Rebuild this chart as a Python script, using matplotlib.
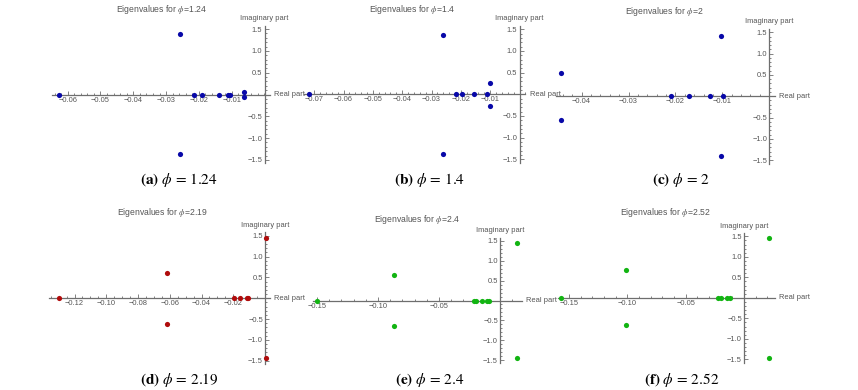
import matplotlib
matplotlib.use("Agg")
from matplotlib import pyplot as plt
from matplotlib.ticker import AutoMinorLocator

W, H = 858, 390
plt.rcParams['mathtext.fontset'] = 'stix'
plt.rcParams['font.family'] = ['Liberation Sans', 'DejaVu Sans']

# eigenvalues (real, imaginary)
re_a = [-0.0628, -0.0259, -0.0259, -0.0216, -0.0190, -0.0138, -0.0111, -0.0104, -0.0064, -0.0064]
im_a = [0, 1.385, -1.37, 0, 0, 0, 0, 0, 0.05, -0.05]
re_b = [-0.0717, -0.0262, -0.0262, -0.0217, -0.0196, -0.0154, -0.0112, -0.0102, -0.0102]
im_b = [0, 1.38, -1.38, 0, 0, 0, 0, 0.265, -0.265]
re_c = [-0.0443, -0.0443, -0.0209, -0.0171, -0.0126, -0.0098, -0.0102, -0.0102]
im_c = [0.55, -0.55, 0, 0, 0, 0, 1.41, -1.41]
re_d = [-0.130, -0.062, -0.062, -0.0196, -0.0156, -0.0116, -0.0108, 0.0008, 0.0008]
im_d = [0, 0.61, -0.61, 0, 0, 0, 0, 1.445, -1.445]
re_e = [-0.150, -0.087, -0.087, -0.0216, -0.0194, -0.0148, -0.0104, -0.0093, 0.0139, 0.0139]
im_e = [0, 0.65, -0.65, 0, 0, 0, 0, 0, 1.45, -1.45]
re_f = [-0.157, -0.101, -0.101, -0.0220, -0.0197, -0.0148, -0.0117, 0.0214, 0.0214]
im_f = [0, 0.675, -0.675, 0, 0, 0, 0, 1.465, -1.465]

phis = ["1.24", "1.4", "2", "2.19", "2.4", "2.52"]
letters = ["a", "b", "c", "d", "e", "f"]
xt_a = [-0.06, -0.05, -0.04, -0.03, -0.02, -0.01]
xt_b = [-0.07, -0.06, -0.05, -0.04, -0.03, -0.02, -0.01]
xt_c = [-0.04, -0.03, -0.02, -0.01]
xt_d = [-0.12, -0.10, -0.08, -0.06, -0.04, -0.02]
xt_e = [-0.15, -0.10, -0.05]
xt_f = [-0.15, -0.10, -0.05]
yt = [-1.5, -1.0, -0.5, 0.5, 1.0, 1.5]

blue, red, green = '#0808a8', '#b00c0c', '#12b412'
gray = '#555555'

fig = plt.figure(figsize=(W / 100, H / 100), dpi=100)


def panel(re, im, col, xt, minor_n, phi, letter,
          x0, xs, y0, ys, xlo, xhi, title_xy, cap_xy):
    ylo, yhi = -1.58, 1.58
    left = x0 + xlo * xs
    width = (xhi - xlo) * xs
    top = y0 - yhi * ys
    bottom = y0 - ylo * ys
    ax = fig.add_axes([left / W, 1 - bottom / H, width / W, (bottom - top) / H])
    ax.set_xlim(xlo, xhi)
    ax.set_ylim(ylo, yhi)
    ax.patch.set_visible(False)
    for s in ['top', 'right']:
        ax.spines[s].set_visible(False)
    for s in ['left', 'bottom']:
        ax.spines[s].set_position(('data', 0))
        ax.spines[s].set_color('#6e6e6e')
        ax.spines[s].set_linewidth(0.9)
    ax.set_xticks(xt)
    ax.set_xticklabels(['\u2212' + '%.2f' % abs(v) for v in xt])
    ax.set_yticks(yt)
    ax.set_yticklabels([('\u2212' if v < 0 else '') + '%.1f' % abs(v) for v in yt])
    ax.xaxis.set_minor_locator(AutoMinorLocator(minor_n))
    ax.yaxis.set_minor_locator(AutoMinorLocator(5))
    ax.tick_params(which='both', direction='in', color='#6e6e6e', width=0.6,
                   labelsize=5.4, labelcolor=gray, pad=1.5)
    ax.tick_params(which='major', length=3.2)
    ax.tick_params(which='minor', length=1.7)
    ax.scatter(re, im, s=14, c=col, zorder=3, clip_on=False, linewidths=0)
    ax.annotate("Real part", xy=(xhi, 0), xytext=(3, 0), textcoords='offset points',
                ha='left', va='center', fontsize=5.4, color=gray)
    ax.annotate("Imaginary part", xy=(0, yhi), xytext=(0, 2.5), textcoords='offset points',
                ha='center', va='bottom', fontsize=5.4, color=gray)
    fig.text(title_xy[0] / W, 1 - title_xy[1] / H, r"Eigenvalues for $\phi$=" + phi,
             ha='center', va='center', fontsize=6.2, color=gray)
    fig.text(cap_xy[0] / W, 1 - cap_xy[1] / H,
             r"$\mathbf{(" + letter + r")}\ \phi\,=\," + phi + "$",
             ha='center', va='center', fontsize=11, color='black')


panel(re_a, im_a, blue, xt_a, 5, phis[0], letters[0],
      264.5, 3280, 94.5, 43.6, -0.0649, 0.0017, (161, 9), (179, 180))
panel(re_b, im_b, blue, xt_b, 5, phis[1], letters[1],
      519.5, 2933, 94.3, 43.3, -0.0735, 0.002, (412, 9), (430, 180))
panel(re_c, im_c, blue, xt_c, 5, phis[2], letters[2],
      769.2, 4690, 96.2, 42.6, -0.0455, 0.0013, (664, 11), (681, 180))
panel(re_d, im_d, red, xt_d, 4, phis[3], letters[3],
      265, 1587, 298.2, 41.7, -0.136, 0.003, (162, 213), (179, 380))
panel(re_e, im_e, green, xt_e, 5, phis[4], letters[4],
      500, 1220, 300.5, 39.7, -0.1535, 0.0178, (417, 219), (430, 380))
panel(re_f, im_f, green, xt_f, 5, phis[5], letters[5],
      744, 1167, 297.8, 41, -0.159, 0.0266, (665, 213), (682, 380))

fig.savefig("out.png", dpi=100)
